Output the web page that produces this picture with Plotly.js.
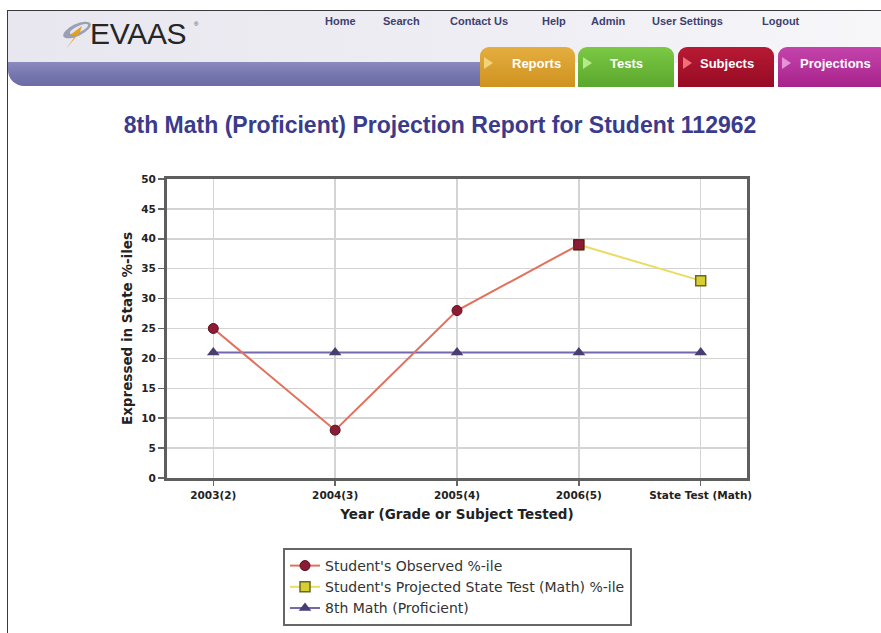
<!DOCTYPE html>
<html><head><meta charset="utf-8">
<script src="https://cdn.plot.ly/plotly-3.0.1.min.js"></script>
<style>
body{margin:0;background:#fff;width:881px;height:633px;overflow:hidden;position:relative;font-family:"Liberation Sans",Arial,sans-serif;}
#chart{position:absolute;left:0;top:0;width:881px;height:633px;z-index:1;}
.h{position:absolute;z-index:2;}
.nav{position:absolute;z-index:3;top:15px;font:bold 11px "Liberation Sans Narrow","Liberation Sans",Arial,sans-serif;color:#3f3f6e;white-space:nowrap;}
.tab{position:absolute;z-index:3;top:47px;height:40px;border-radius:9px 9px 0 0;color:#fff;font:bold 13px "Liberation Sans",Arial,sans-serif;white-space:nowrap;overflow:hidden;}
.tab span{position:absolute;top:9px;}
.tab i{position:absolute;top:10px;width:0;height:0;border-top:6px solid transparent;border-bottom:6px solid transparent;border-left:9px solid;}
</style></head>
<body>
<div class="h" style="left:8px;top:11px;width:873px;height:52px;background:linear-gradient(to right,#e8e7ef,#efeef4 60%,#f7f7fa);"></div>
<div class="h" style="left:7px;top:10px;width:874px;height:1px;background:#3a3a3a;"></div>
<div class="h" style="left:7px;top:10px;width:1px;height:623px;background:#3a3a3a;"></div>
<div class="h" style="left:8px;top:62px;width:480px;height:24px;background:linear-gradient(#8a8abf,#7474ad 60%,#6c6ca6);border-bottom-left-radius:16px;"></div>
<svg class="h" style="left:58px;top:20px;" width="36" height="30" viewBox="0 0 36 30">
  <ellipse cx="19" cy="10" rx="15" ry="6" transform="rotate(-25 19 10)" fill="#9aa0b4"/>
  <ellipse cx="21" cy="9" rx="10" ry="3" transform="rotate(-25 21 9)" fill="#e4e6ee"/>
  <polygon points="22,12 8,29 18,15 12,15 24,6" fill="#e6a020"/>
</svg>
<div class="h" style="left:90px;top:17px;font:30px 'Liberation Sans',Arial,sans-serif;color:#262626;letter-spacing:-0.3px;">EVAAS</div>
<div class="h" style="left:194px;top:21px;font:6px 'Liberation Sans',Arial,sans-serif;color:#444;">®</div>
<div class="nav" style="left:325px;">Home</div>
<div class="nav" style="left:383px;">Search</div>
<div class="nav" style="left:450px;">Contact Us</div>
<div class="nav" style="left:542px;">Help</div>
<div class="nav" style="left:591px;">Admin</div>
<div class="nav" style="left:652px;">User Settings</div>
<div class="nav" style="left:762px;">Logout</div>
<div class="tab" style="left:480px;width:95px;background:linear-gradient(#e4ae40,#cf921f);"><i style="left:4px;border-left-color:#f4d27a;"></i><span style="left:32px;">Reports</span></div>
<div class="tab" style="left:578px;width:96px;background:linear-gradient(#7cc946,#5aa72d);"><i style="left:5px;border-left-color:#b4ea8a;"></i><span style="left:32px;">Tests</span></div>
<div class="tab" style="left:678px;width:96px;background:linear-gradient(#b81a34,#960b23);"><i style="left:5px;border-left-color:#f0707a;"></i><span style="left:22px;">Subjects</span></div>
<div class="tab" style="left:778px;width:110px;background:linear-gradient(#c444ab,#a8238c);"><i style="left:4px;border-left-color:#e592d6;"></i><span style="left:22px;">Projections</span></div>
<div id="chart"></div>
<script>
const categories = ['2003(2)', '2004(3)', '2005(4)', '2006(5)', 'State Test (Math)'];
const observed = [25, 8, 28, 39, null];
const observedSymbols = ['circle', 'circle', 'circle', 'square', 'circle'];
const projected = [null, null, null, 39, 33];
const proficient = [21, 21, 21, 21, 21];
const yTicks = [0, 5, 10, 15, 20, 25, 30, 35, 40, 45, 50];

const W = 881, H = 633, L = 167, R = 134, T = 179, B = 155;
const FONT = '"Liberation Sans", Arial, sans-serif';
const WIDE = '"DejaVu Sans", Verdana, sans-serif';

const traces = [
  {
    x: categories, y: proficient, type: 'scatter', mode: 'lines+markers',
    name: '8th Math (Proficient)', legendrank: 3,
    line: {color: '#7468ae', width: 2},
    marker: {symbol: 'triangle-up', size: 11, color: '#4a3d70', line: {width: 0}}
  },
  {
    x: categories, y: projected, type: 'scatter', mode: 'lines+markers',
    name: "Student's Projected State Test (Math) %-ile", legendrank: 2,
    line: {color: '#eadc62', width: 2},
    marker: {symbol: 'square', size: 10, color: '#d6cf32', line: {color: '#6b671c', width: 1.5}},
    connectgaps: false
  },
  {
    x: categories, y: observed, type: 'scatter', mode: 'lines+markers',
    name: "Student's Observed %-ile", legendrank: 1,
    line: {color: '#e2705c', width: 2},
    marker: {symbol: observedSymbols, size: 10, color: '#8c1c34', line: {color: '#5c0f20', width: 1}},
    connectgaps: false
  }
];

const layout = {
  width: W, height: H,
  margin: {l: L, r: R, t: T, b: B, pad: 0, autoexpand: false},
  paper_bgcolor: 'rgba(0,0,0,0)',
  plot_bgcolor: '#ffffff',
  font: {family: FONT, color: '#222'},
  showlegend: true,
  title: {
    text: '<b>8th Math (Proficient) Projection Report for Student 112962</b>',
    font: {size: 23, color: '#3b3b8c', family: FONT},
    x: 440 / W, xanchor: 'center', xref: 'container',
    y: 1 - 125 / H, yanchor: 'middle', yref: 'container'
  },
  xaxis: {
    type: 'category', range: [-0.38, 4.38],
    showgrid: true, gridcolor: '#d4d4d4', gridwidth: 1.5,
    showline: true, linecolor: '#5e5e5e', linewidth: 3, mirror: true,
    ticks: 'outside', ticklen: 5, tickwidth: 1.5, tickcolor: '#666',
    tickfont: {size: 10.5, weight: 'bold', color: '#222', family: WIDE},
    zeroline: false, automargin: false,
    title: {text: 'Year (Grade or Subject Tested)', font: {size: 13.5, weight: 'bold', color: '#222', family: WIDE}, standoff: 10}
  },
  yaxis: {
    range: [0, 50], tickvals: yTicks,
    showgrid: true, gridcolor: '#d4d4d4', gridwidth: 1.5,
    showline: true, linecolor: '#5e5e5e', linewidth: 3, mirror: true,
    ticks: 'outside', ticklen: 6, tickwidth: 1.5, tickcolor: '#666',
    tickfont: {size: 10.5, weight: 'bold', color: '#222', family: WIDE},
    zeroline: false, automargin: false,
    title: {text: 'Expressed in State %-iles', font: {size: 13.5, weight: 'bold', color: '#222', family: WIDE}, standoff: 6}
  },
  legend: {
    x: (283 - L) / (W - L - R), xanchor: 'left',
    y: (H - B - 548) / (H - T - B), yanchor: 'top',
    bgcolor: '#ffffff', bordercolor: '#666', borderwidth: 2,
    font: {size: 14, color: '#333', family: WIDE},
    tracegroupgap: 0
  }
};

Plotly.newPlot('chart', traces, layout, {displayModeBar: false, staticPlot: true});
</script>
</body></html>
